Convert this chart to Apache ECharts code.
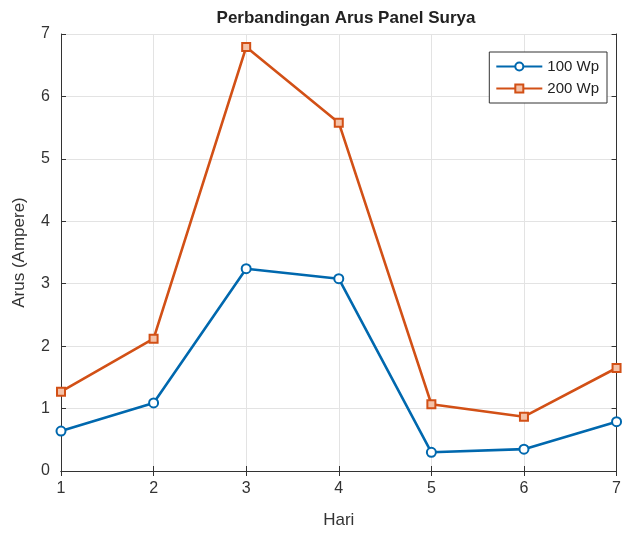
<!DOCTYPE html>
<html>
<head>
<meta charset="utf-8">
<script src="https://cdn.jsdelivr.net/npm/echarts@6/dist/echarts.min.js"></script>
<style>
  html, body { margin: 0; padding: 0; background: #fff; }
  #chart { width: 624px; height: 535px; }
</style>
</head>
<body>
<div id="chart"></div>
<script>
// hari ke-1 .. ke-7
var hari = [1, 2, 3, 4, 5, 6, 7];
var arus100 = [0.64, 1.09, 3.24, 3.08, 0.30, 0.35, 0.79];
var arus200 = [1.27, 2.12, 6.79, 5.58, 1.07, 0.87, 1.65];

function pairs(ys) {
  return hari.map(function (x, i) { return [x, ys[i]]; });
}

var fontName = '"Liberation Sans", Arial, sans-serif';
var chart = echarts.init(document.getElementById('chart'));

var option = {
  animation: false,
  backgroundColor: '#fff',
  title: {
    text: 'Perbandingan Arus Panel Surya',
    left: 341, top: 5, textAlign: 'center',
    textStyle: { fontFamily: fontName, fontSize: 17, fontWeight: 'bold', color: '#222' }
  },
  legend: {
    orient: 'vertical',
    right: 17, top: 52,
    padding: [7, 8, 7, 6],
    itemGap: 7,
    itemWidth: 46, itemHeight: 10,
    borderColor: '#333', borderWidth: 1,
    backgroundColor: '#fff',
    textStyle: { fontFamily: fontName, fontSize: 15, color: '#222' },
    data: ['100 Wp', '200 Wp']
  },
  grid: { left: 61, right: 1, top: 34, bottom: 64 },
  xAxis: [{
    type: 'value', min: 1, max: 7, interval: 1,
    name: 'Hari', nameLocation: 'middle', nameGap: 41,
    nameTextStyle: { fontFamily: fontName, fontSize: 17, color: '#333' },
    axisLine: { lineStyle: { color: '#333', width: 1 } },
    axisTick: { inside: true, length: 5, lineStyle: { color: '#333' } },
    axisLabel: { fontFamily: fontName, fontSize: 16, color: '#333', margin: 10 },
    splitLine: { show: true, lineStyle: { color: '#e3e3e3' } }
  }, {
    type: 'value', min: 1, max: 7, interval: 1, position: 'top',
    axisLine: { show: true, lineStyle: { color: '#333', width: 1 } },
    axisTick: { inside: true, length: 5, lineStyle: { color: '#333' } },
    axisLabel: { show: false }, splitLine: { show: false }
  }],
  yAxis: [{
    type: 'value', min: 0, max: 7, interval: 1,
    name: 'Arus (Ampere)', nameLocation: 'middle', nameGap: 33,
    nameTextStyle: { fontFamily: fontName, fontSize: 17, color: '#333' },
    axisLine: { show: true, lineStyle: { color: '#333', width: 1 } },
    axisTick: { show: true, inside: true, length: 5, lineStyle: { color: '#333' } },
    axisLabel: { fontFamily: fontName, fontSize: 16, color: '#333', margin: 11 },
    splitLine: { show: true, lineStyle: { color: '#e3e3e3' } }
  }, {
    type: 'value', min: 0, max: 7, interval: 1, position: 'right',
    axisLine: { show: true, lineStyle: { color: '#333', width: 1 } },
    axisTick: { show: true, inside: true, length: 5, lineStyle: { color: '#333' } },
    axisLabel: { show: false }, splitLine: { show: false }
  }],
  series: [{
    name: '100 Wp', type: 'line',
    data: pairs(arus100),
    symbol: 'emptyCircle', symbolSize: 9,
    color: '#0068AE',
    lineStyle: { width: 2.6, color: '#0068AE' },
    itemStyle: { color: '#0068AE', borderWidth: 2 }
  }, {
    name: '200 Wp', type: 'line',
    data: pairs(arus200),
    symbol: 'rect', symbolSize: 8,
    color: '#D25016',
    lineStyle: { width: 2.6, color: '#D25016' },
    itemStyle: { color: '#f4c2a8', borderColor: '#D25016', borderWidth: 2 }
  }]
};

chart.setOption(option);
</script>
</body>
</html>
